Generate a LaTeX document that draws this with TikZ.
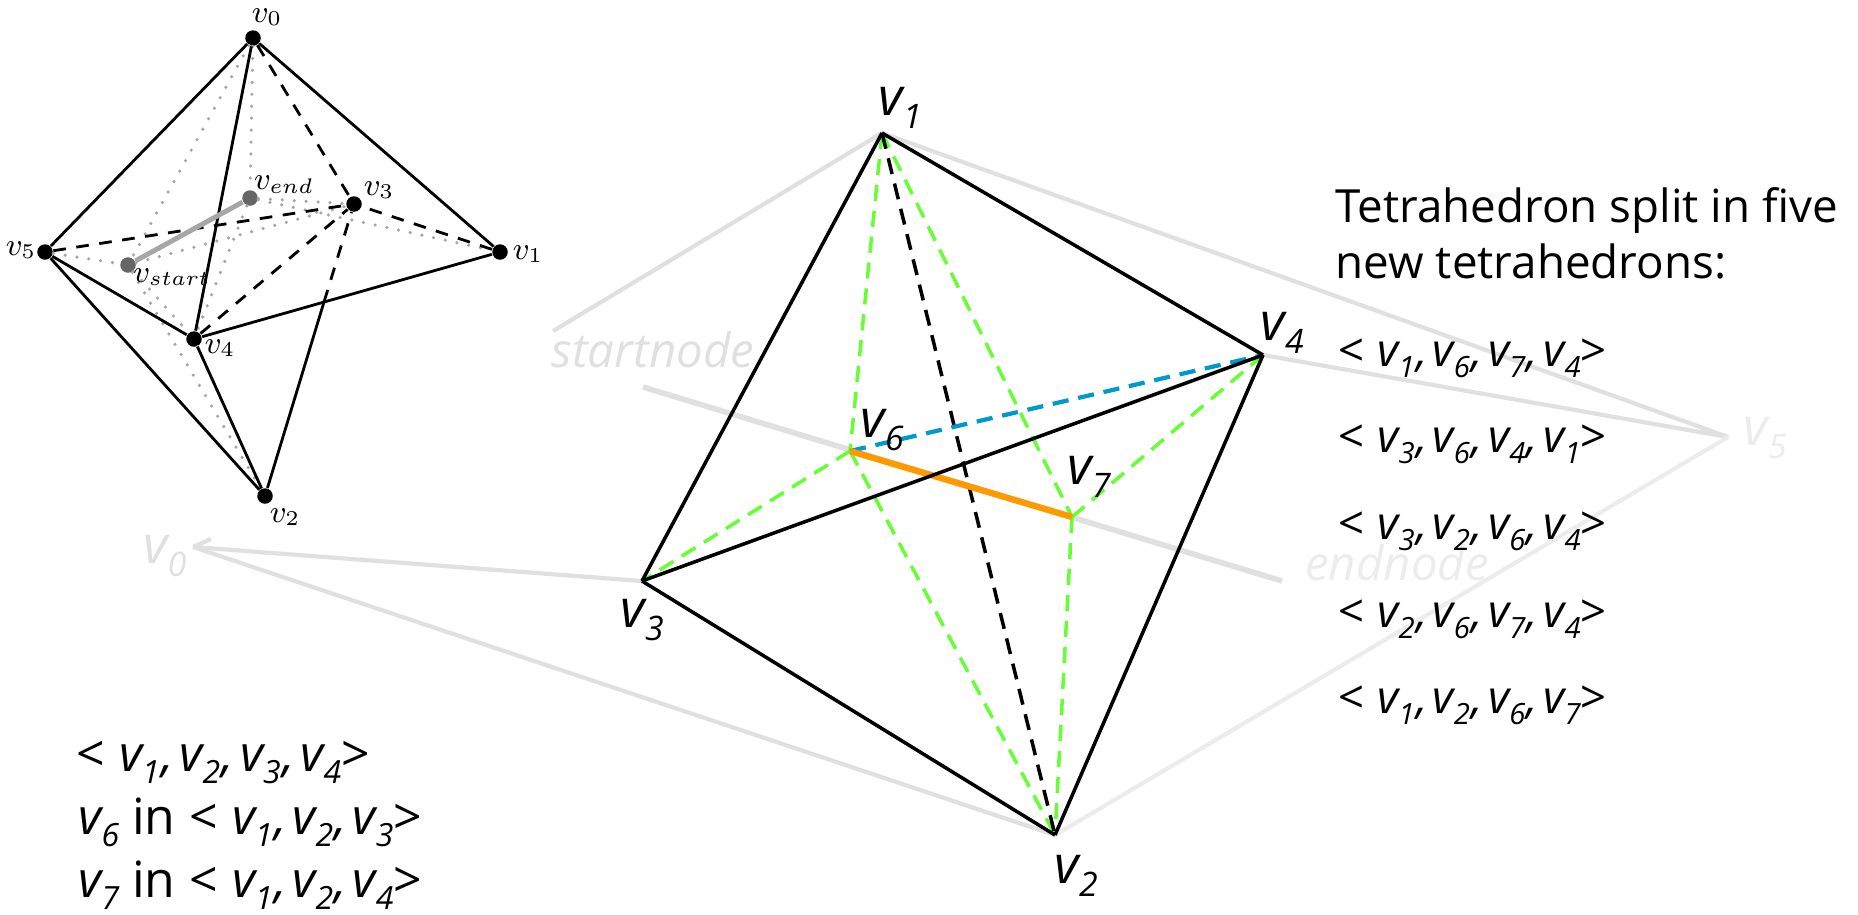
\documentclass[tikz,border=0pt]{standalone}
\usepackage{fontspec}
\usetikzlibrary{calc}
\setmainfont{Open Sans}
\definecolor{ghost}{HTML}{E0E0E0}
\definecolor{ghostlight}{HTML}{ECECEC}
\definecolor{splitgreen}{HTML}{66FF33}
\definecolor{splitblue}{HTML}{0099CC}
\definecolor{splitorange}{HTML}{FF9900}
\newcommand{\vx}[1]{\textit{v\raisebox{-0.25em}{\fontsize{0.64em}{0.64em}\selectfont #1}}}
\newcommand{\comma}{\kern0.03em,\kern0.12em}
\newcommand{\tetra}[4]{\textit{<\kern0.3em\vx{#1}\comma\vx{#2}\comma\vx{#3}\comma\vx{#4}\kern-0.02em>}}
\newcommand{\face}[3]{\textit{<\kern0.3em\vx{#1}\comma\vx{#2}\comma\vx{#3}\kern-0.02em>}}
\tikzset{
  inset/.style={draw,line width=0.8pt},
  insetdash/.style={inset,dash pattern=on 3.6pt off 3pt},
  insetdot/.style={draw=black!35,line width=1pt,line cap=round,dash pattern=on 0pt off 3.4pt},
  dot/.style={circle,fill=black,inner sep=0pt,minimum size=1.55mm},
  graydot/.style={circle,fill=black!60,inner sep=0pt,minimum size=1.55mm},
  edge/.style={draw,line width=1pt},
  hidden/.style={draw,line width=1pt,dash pattern=on 4.6pt off 2.8pt},
  green/.style={draw=splitgreen,line width=1pt,dash pattern=on 4.6pt off 2.8pt},
  ghostline/.style={draw=ghost,line width=1.2pt},
  lbl/.style={inner sep=0pt,font=\fontsize{13pt}{15pt}\selectfont},
  big/.style={inner sep=0pt,anchor=base west,font=\fontsize{15pt}{17pt}\selectfont},
  listing/.style={inner sep=0pt,anchor=base west,font=\fontsize{13pt}{15pt}\selectfont},
  listbig/.style={listing,font=\fontsize{14.2pt}{16pt}\selectfont},
}
\begin{document}
\begin{tikzpicture}[x=0.01cm,y=-0.01cm]
    \useasboundingbox (0,0) rectangle (1858,914);

    % kleine Skizze oben links
    \node[dot] (a0) at (253,38) {};
    \node[dot] (a1) at (500,252) {};
    \node[dot] (a2) at (265,496) {};
    \node[dot] (a3) at (354,204) {};
    \node[dot] (a4) at (194,339) {};
    \node[dot] (a5) at (45,252) {};
    \node[graydot] (aend) at (250,198) {};
    \node[graydot] (astart) at (128,265) {};
    \coordinate (across) at (324,302);

    \foreach \p/\q in {a0/aend,a0/astart,a5/astart,aend/a3,aend/a1,aend/a4,astart/a3,astart/a4,astart/a2,a4/a2}
      \draw[insetdot] (\p) -- (\q);
    \foreach \p/\q in {a0/a3,a5/a3,a1/a3,a4/a3,across/a3}
      \draw[insetdash] (\p) -- (\q);
    \foreach \p/\q in {a0/a5,a0/a1,a0/a4,a5/a4,a4/a1,a5/a2,a4/a2,a2/across}
      \draw[inset] (\p) -- (\q);
    \draw[black!35,line width=1.4pt] (astart) -- (aend);

    \node[inner sep=0pt] (l0) at (267,17) {\small $v_0$};
    \node[inner sep=0pt] (l1) at (528,254) {\small $v_1$};
    \node[inner sep=0pt] (l2) at (285,517) {\small $v_2$};
    \node[inner sep=0pt] (l3) at (379,190) {\small $v_3$};
    \node[inner sep=0pt] (l4) at (220,348) {\small $v_4$};
    \node[inner sep=0pt] (l5) at (21,250) {\small $v_5$};
    \node[inner sep=0pt] (lend) at (284,185) {\small $v_{end}$};
    \node[inner sep=0pt] (lstart) at (172,277) {\small $v_{start}$};

    % die Ecken
    \coordinate (v0) at (193,547);
    \coordinate (v1) at (882,133);
    \coordinate (v2) at (1055,835);
    \coordinate (v3) at (642,581);
    \coordinate (v4) at (1263,355);
    \coordinate (v5) at (1728,437);
    \coordinate (v6) at (850,451);
    \coordinate (v7) at (1072,517);
    \coordinate (linea) at (643,387);
    \coordinate (lineb) at (1282,581);
    \coordinate (stub) at (553,331);

    % ausgeblendete Teile
    \foreach \p/\q in {stub/v1,v1/v5,v4/v5,v3/v0,v2/v0}
      \draw[ghostline] (\p) -- (\q);
    \draw[ghostline,draw=ghostlight] (v2) -- (v5);
    \draw[ghostline] ($(v0)+(18,-8)$) -- (v0);
    \draw[ghostline,line width=1.6pt] (linea) -- (lineb);
    \node[big,text=ghost] (lv0) at (143,563) {\vx{0}};
    \node[big,text=ghostlight] (lv5) at (1743,445) {\vx{5}};
    \node[lbl,text=ghost,font=\fontsize{13.5pt}{15pt}\selectfont] (lstartnode) at (653,350) {\textit{startnode}};
    \node[lbl,text=ghostlight,font=\fontsize{13.5pt}{15pt}\selectfont] (lendnode) at (1397,563) {\textit{endnode}};

    % neue Tetraeder
    \foreach \p/\q in {v1/v6,v6/v3,v6/v2,v1/v7,v7/v4,v7/v2}
      \draw[green] (\p) -- (\q);
    \draw[hidden] (v1) -- (v2);
    \draw[draw=splitblue,line width=1.2pt,dash pattern=on 4.6pt off 2.8pt] (v6) -- (v4);
    \draw[splitorange,line width=1.8pt] (v6) -- (v7);

    % das Tetraeder
    \foreach \p/\q in {v1/v3,v1/v4,v3/v4,v3/v2,v2/v4}
      \draw[edge] (\p) -- (\q);

    \node[big] (lv1) at (878,115) {\vx{1}};
    \node[big] (lv2) at (1054,883) {\vx{2}};
    \node[big] (lv3) at (620,627) {\vx{3}};
    \node[big] (lv4) at (1260,340) {\vx{4}};
    \node[big] (lv6) at (860,437) {\vx{6}};
    \node[big] (lv7) at (1067,484) {\vx{7}};

    % Text
    \node[lbl,anchor=base west] (title) at (1335,222) {Tetrahedron split in five};
    \node[lbl,anchor=base west] (titleb) at (1335,278) {new tetrahedrons:};
    \node[listing] (s1) at (1337,366) {\tetra{1}{6}{7}{4}};
    \node[listing] (s2) at (1337,452) {\tetra{3}{6}{4}{1}};
    \node[listing] (s3) at (1337,539) {\tetra{3}{2}{6}{4}};
    \node[listing] (s4) at (1337,627) {\tetra{2}{6}{7}{4}};
    \node[listing] (s5) at (1337,713) {\tetra{1}{2}{6}{7}};

    \node[listbig] (t1) at (75,771) {\tetra{1}{2}{3}{4}};
    \node[listbig] (t2) at (78,834) {\vx{6} in \face{1}{2}{3}};
    \node[listbig] (t3) at (78,897) {\vx{7} in \face{1}{2}{4}};
  \end{tikzpicture}
\end{document}
